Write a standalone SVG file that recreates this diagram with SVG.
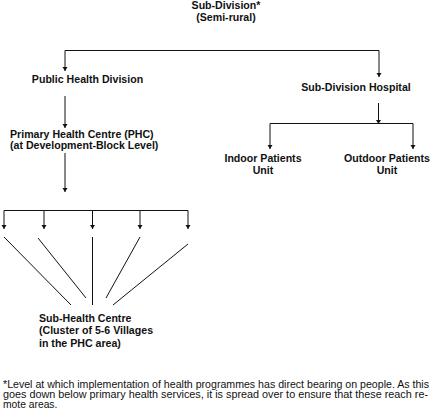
<svg xmlns="http://www.w3.org/2000/svg" width="430" height="413" viewBox="0 0 430 413">
<style>
.b{font-family:"Liberation Sans",Arial,sans-serif;font-weight:bold;font-size:10.6px;fill:#111}
.r{font-family:"Liberation Sans",Arial,sans-serif;font-size:10.3px;fill:#111}
.c{text-anchor:middle}
.ln{stroke:#111;stroke-width:1;fill:none}
</style>
<defs>
<marker id="ah" viewBox="0 0 8 10" refX="8" refY="5" markerWidth="4.4" markerHeight="5.5" orient="auto" markerUnits="userSpaceOnUse">
<path d="M0,0 L8,5 L0,10 Z" fill="#111"/>
</marker>
</defs>
<rect width="430" height="413" fill="#fff"/>
<g id="connectors" class="ln">
<path d="M65,50.5 H379"/>
<path d="M65,50.5 V71" marker-end="url(#ah)"/>
<path d="M379,50.5 V77" marker-end="url(#ah)"/>
<path d="M65,96 V128" marker-end="url(#ah)"/>
<path d="M378.5,103 V124" marker-end="url(#ah)"/>
<path d="M270,123.5 H413"/>
<path d="M270,123.5 V149" marker-end="url(#ah)"/>
<path d="M413,123.5 V149" marker-end="url(#ah)"/>
<path d="M65,153 V192" marker-end="url(#ah)"/>
<path d="M4,210.5 H188"/>
<path d="M4,210.5 V229" marker-end="url(#ah)"/>
<path d="M44,210.5 V229" marker-end="url(#ah)"/>
<path d="M92.5,210.5 V229" marker-end="url(#ah)"/>
<path d="M140,210.5 V229" marker-end="url(#ah)"/>
<path d="M188,210.5 V229" marker-end="url(#ah)"/>
<path d="M4,237 L71,305"/>
<path d="M38,238 L86,298"/>
<path d="M92.5,237 V305"/>
<path d="M140,237 L106,298"/>
<path d="M188,244 L113,305"/>
</g>
<g id="sub-division">
<text class="b c" x="226" y="9">Sub-Division*</text>
<text class="b c" x="226" y="21">(Semi-rural)</text>
</g>
<g id="public-health-division">
<text class="b c" x="87.5" y="83">Public Health Division</text>
</g>
<g id="sub-division-hospital">
<text class="b c" x="356" y="91">Sub-Division Hospital</text>
</g>
<g id="phc">
<text class="b" x="10" y="138">Primary Health Centre (PHC)</text>
<text class="b" x="10" y="149">(at Development-Block Level)</text>
</g>
<g id="indoor">
<text class="b c" x="263" y="162">Indoor Patients</text>
<text class="b c" x="263" y="174">Unit</text>
</g>
<g id="outdoor">
<text class="b c" x="387" y="162">Outdoor Patients</text>
<text class="b c" x="387" y="174">Unit</text>
</g>
<g id="sub-health-centre">
<text class="b" x="39" y="322">Sub-Health Centre</text>
<text class="b" x="39" y="334">(Cluster of 5-6 Villages</text>
<text class="b" x="39" y="347">in the PHC area)</text>
</g>
<g id="footnote">
<text class="r" x="3" y="388" textLength="426" lengthAdjust="spacingAndGlyphs">*Level at which implementation of health programmes has direct bearing on people. As this</text>
<text class="r" x="3" y="398" textLength="425" lengthAdjust="spacingAndGlyphs">goes down below primary health services, it is spread over to ensure that these reach re-</text>
<text class="r" x="3" y="408">mote areas.</text>
</g>
</svg>
